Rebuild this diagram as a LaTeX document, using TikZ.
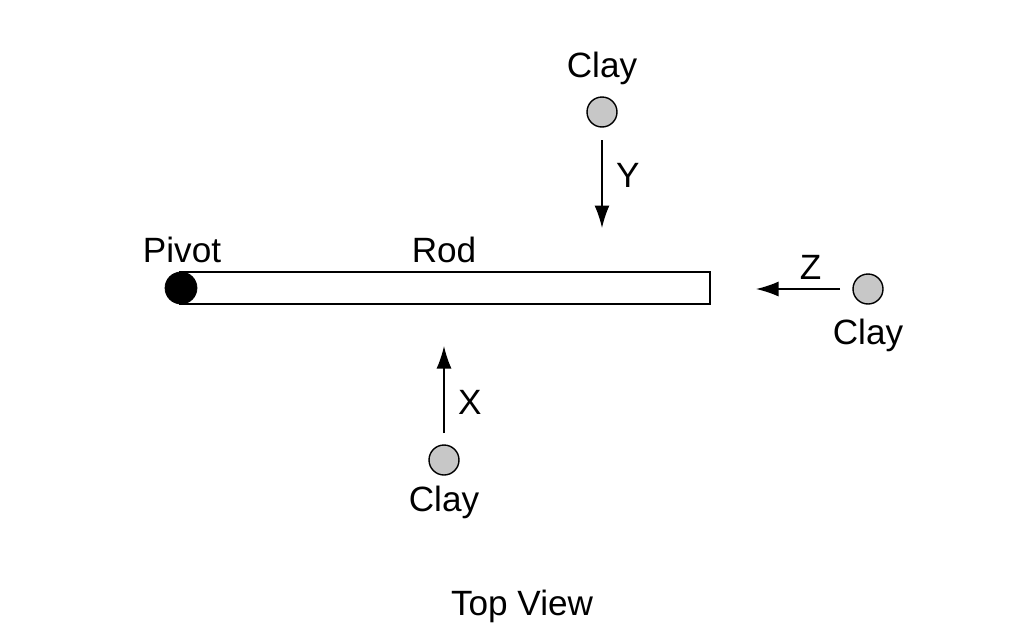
\documentclass[tikz,border=0pt]{standalone}
\usepackage{fontspec}
\setmainfont{Liberation Sans}
\usetikzlibrary{arrows.meta}
\begin{document}
\begin{tikzpicture}[x=0.02cm,y=-0.02cm,
    claynode/.style={circle, draw=black, fill=black!22, thick, minimum size=0.6cm, inner sep=0},
    labelnode/.style={font=\fontsize{20}{23}\selectfont},
    push/.style={-{Latex[length=4.5mm,width=3mm]}, thick},
    ]
    \useasboundingbox (0,0) rectangle (1024,640);
    %Rod and pivot
    \node[draw, thick, minimum width=10.6cm, minimum height=0.64cm, inner sep=0] (rod) at (445,288) {};
    \node[circle, fill=black, draw=black, minimum size=0.64cm, inner sep=0] (pivot) at (181,288) {};
    \node[labelnode] (pivotlbl) at (182,250) {Pivot};
    \node[labelnode] (rodlbl) at (444,250) {Rod};
    %Clay pieces
    \node[claynode] (clayy) at (602,112) {};
    \node[labelnode] (clayylbl) at (602,68) {Clay};
    \node[claynode] (clayz) at (868,289) {};
    \node[labelnode] (clayzlbl) at (868,335) {Clay};
    \node[claynode] (clayx) at (444,460) {};
    \node[labelnode] (clayxlbl) at (444,502) {Clay};
    \coordinate (ty) at (602,228);
    \coordinate (tz) at (756,289);
    \coordinate (tx) at (444,346);
    %Arrows
    \draw[push] (602,140) -- (ty) node[pos=0.4, right=0.15cm, labelnode] {Y};
    \draw[push] (840,289) -- (tz) node[pos=0.35, above=0.05cm, labelnode] {Z};
    \draw[push] (444,433) -- (tx) node[pos=0.35, right=0.15cm, labelnode] {X};
    \node[labelnode] (title) at (522,606) {Top View};
\end{tikzpicture}
\end{document}
